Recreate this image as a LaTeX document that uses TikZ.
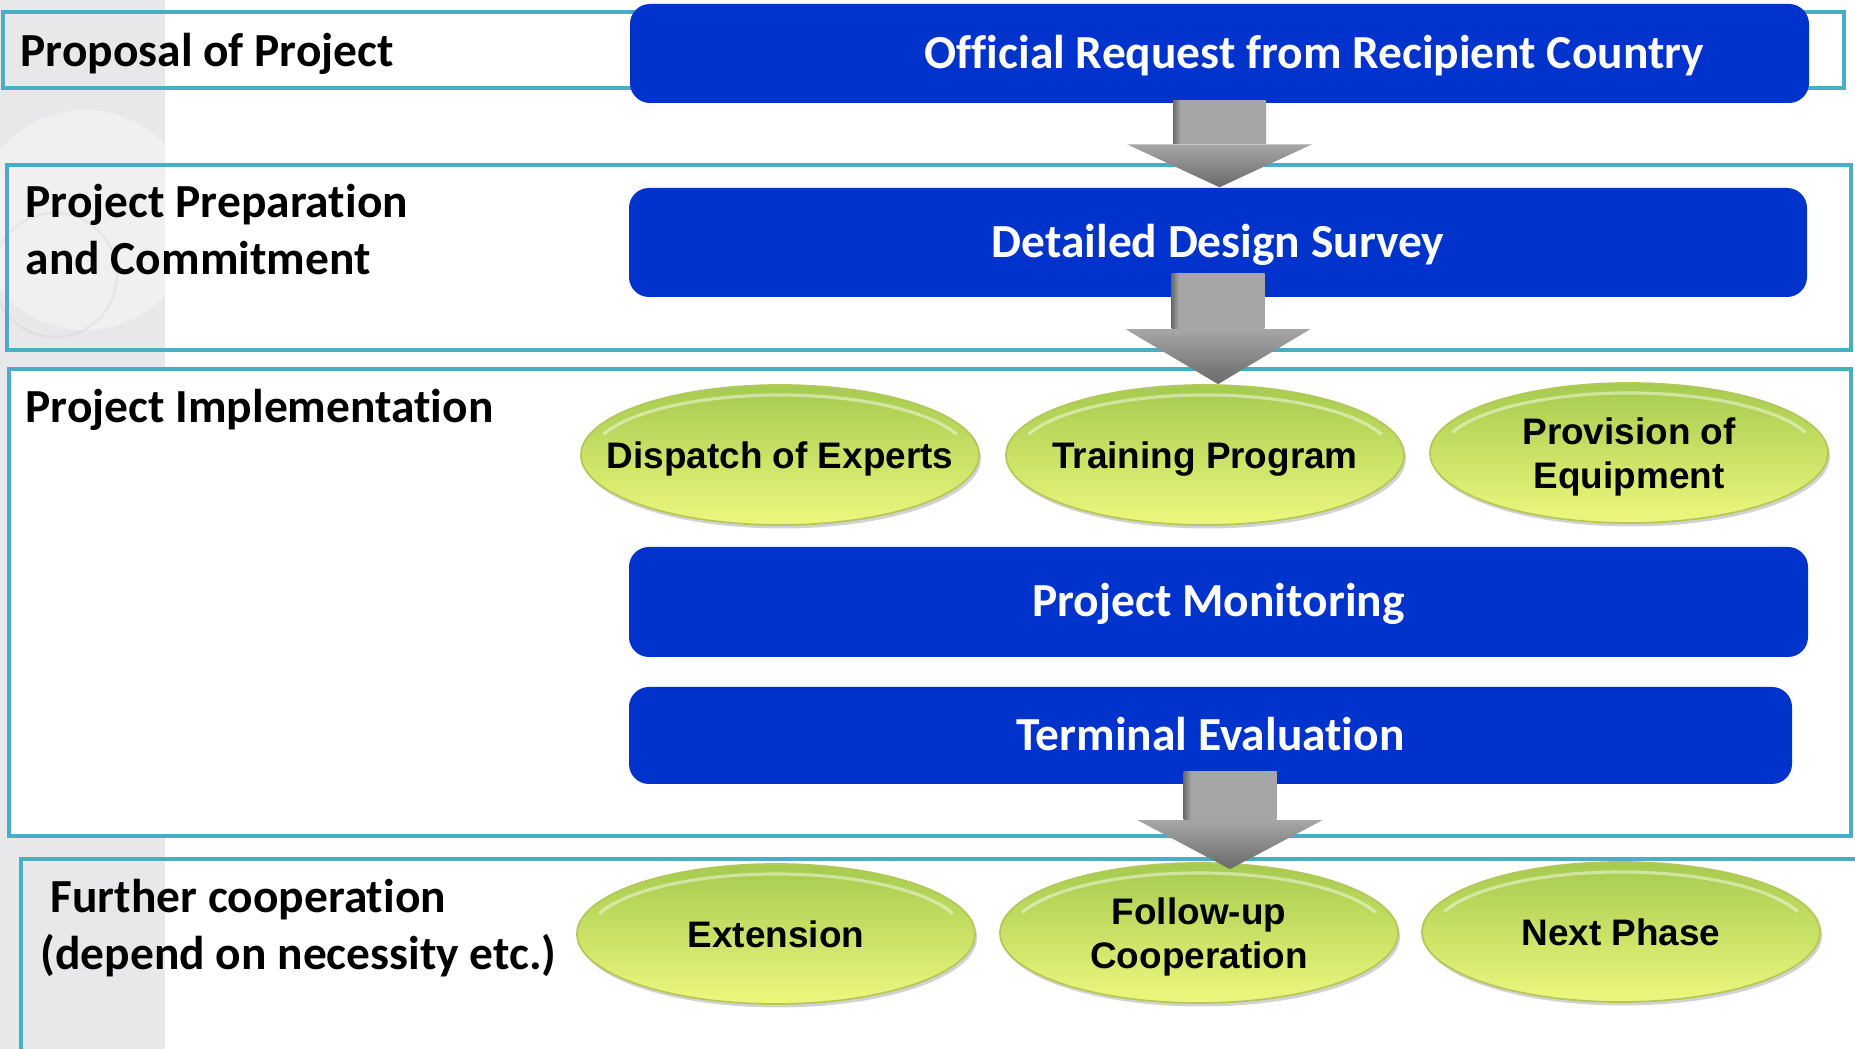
\documentclass[tikz,border=0pt]{standalone}
\usepackage{fontspec}
\setmainfont{Carlito}[Ligatures=NoCommon]
\newfontfamily\ovalfont{Liberation Sans}
\usepackage{tikz}
\usetikzlibrary{shapes.geometric,shadows,calc}

\definecolor{frameteal}{HTML}{4BACC6}
\definecolor{stepblue}{HTML}{0033CC}
\definecolor{bandgray}{HTML}{E8E8EA}
\definecolor{limetop}{HTML}{A4CB4E}
\definecolor{limebottom}{HTML}{EEF77E}
\definecolor{limeedge}{HTML}{B5C75A}
\definecolor{arrowgray}{HTML}{A6A6A6}
\definecolor{arrowdark}{HTML}{6A6A6A}

\pgfdeclarehorizontalshading{shaftshade}{100bp}{color(0bp)=(arrowdark); color(25bp)=(arrowdark); color(29bp)=(arrowgray); color(100bp)=(arrowgray)}

% block arrow: top point, tip point, head length
\newcommand{\blockarrow}[3]{%
  \path[shading=shaftshade] let \p1=(#1), \p2=(#2) in
    (\x1-0.465cm,\y1) rectangle (\x1+0.465cm,\y2+#3+0.01cm);
  \path[top color=arrowgray, middle color=arrowgray, bottom color=arrowdark] let \p1=(#1), \p2=(#2) in
    (\x1-0.925cm,\y2+#3) -- (\x1+0.925cm,\y2+#3) -- (\x1,\y2) -- cycle;}

\begin{document}
\begin{tikzpicture}[x=1cm, y=-1cm,
	frame/.style={draw=frameteal, line width=0.04cm},
	stepbox/.style={rectangle, rounded corners=0.2cm, fill=stepblue, text=white, inner sep=0pt,
		font=\bfseries\fontsize{13.5}{16}\selectfont, text height=0.30cm, text depth=0pt},
	limeoval/.style={ellipse, minimum width=3.98cm, minimum height=1.40cm, inner sep=0pt,
		top color=limetop, bottom color=limebottom, draw=limeedge, line width=0.5pt,
		drop shadow={shadow xshift=0.02cm, shadow yshift=-0.035cm, opacity=0.35}},
	ovalshine/.style={white, opacity=0.45, line width=0.9pt},
	ovaltext/.style={font=\ovalfont\bfseries\fontsize{10.5}{12.5}\selectfont, align=center, inner sep=0pt, text depth=0pt},
	stagelabel/.style={font=\bfseries\fontsize{13.5}{16.4}\selectfont, align=left, anchor=base west, inner sep=0pt}]

	\useasboundingbox (0,0) rectangle (18.55,10.49);
	\clip (0,0) rectangle (18.55,10.49);

	% Background and grey band
	\fill[white] (0,0) rectangle (18.55,10.49);
	\fill[bandgray] (0,0) rectangle (1.65,10.49);
	\begin{scope}
		\clip (0,0) rectangle (1.65,10.49);
		\fill[white, opacity=0.35] (0.85,2.2) circle [radius=1.1];
		\draw[bandgray!85!black, opacity=0.25, line width=0.6pt] (0.55,2.75) circle [radius=0.62];
	\end{scope}

	% Draw stage frames
	\draw[frame] (0.03,0.12) rectangle (18.44,0.88);
	\draw[frame] (0.07,1.65) rectangle (18.51,3.50);
	\draw[frame, fill=white] (0.09,3.69) rectangle (18.51,8.36);
	\draw[frame] (18.70,8.59) -- (0.21,8.59) -- (0.21,10.70);

	% Stage labels (base = last line)
	\node[stagelabel] (proposal) at (0.20,0.67) {Proposal of Project};
	\node[stagelabel] (preparation) at (0.25,2.75) {Project Preparation\\and Commitment};
	\node[stagelabel] (implementation) at (0.25,4.23) {Project Implementation};
	\node[stagelabel] (further) at (0.40,9.70) {\hspace*{0.10cm}Further cooperation\\(depend on necessity etc.)};

	% Blue steps
	\node[stepbox, minimum width=11.79cm, minimum height=0.99cm] (official) at (12.195,0.535)
		{\hspace*{1.90cm}Official Request from Recipient Country};
	\node[stepbox, minimum width=11.78cm, minimum height=1.09cm] (dds) at (12.18,2.425) {Detailed Design Survey};
	\node[stepbox, minimum width=11.79cm, minimum height=1.10cm] (monitoring) at (12.185,6.02) {Project Monitoring};
	\node[stepbox, minimum width=11.63cm, minimum height=0.97cm] (terminal) at (12.105,7.355) {Terminal Evaluation};

	% Implementation ovals
	\node[limeoval] (dispatch) at (7.80,4.55) {};
	\node[limeoval] (training) at (12.05,4.55) {};
	\node[limeoval] (provision) at (16.29,4.53) {};

	% Further cooperation ovals
	\node[limeoval] (extension) at (7.76,9.34) {};
	\node[limeoval] (followup) at (11.99,9.33) {};
	\node[limeoval] (nextphase) at (16.21,9.32) {};

	% shine along the top of each oval
	\foreach \oval in {dispatch,training,provision,extension,followup,nextphase}
		\draw[ovalshine] ($(\oval.center)+(200:1.88 and 0.60)$) arc [start angle=200, end angle=340, x radius=1.88, y radius=0.60];

	\node[ovaltext] (dispatchtext) at (dispatch) {Dispatch of Experts};
	\node[ovaltext] (trainingtext) at (training) {Training Program};
	\node[ovaltext] (provisiontext) at (provision) {Provision of\\Equipment};
	\node[ovaltext] (extensiontext) at (extension) {Extension};
	\node[ovaltext] (followuptext) at (followup) {Follow-up\\Cooperation};
	\node[ovaltext] (nextphasetext) at (nextphase) {Next Phase};

	% Block arrows
	\coordinate (a1top) at ([yshift=0.03cm]official.south);
	\coordinate (a2top) at ([yshift=0.24cm]dds.south);
	\coordinate (a3top) at ([xshift=0.195cm,yshift=0.13cm]terminal.south);
	\coordinate (a3tip) at ([yshift=-0.07cm]a3top |- followup.north);
	\blockarrow{a1top}{a1top |- dds.north}{0.43cm}
	\blockarrow{a2top}{a2top |- training.north}{0.55cm}
	\blockarrow{a3top}{a3tip}{0.49cm}

\end{tikzpicture}
\end{document}
